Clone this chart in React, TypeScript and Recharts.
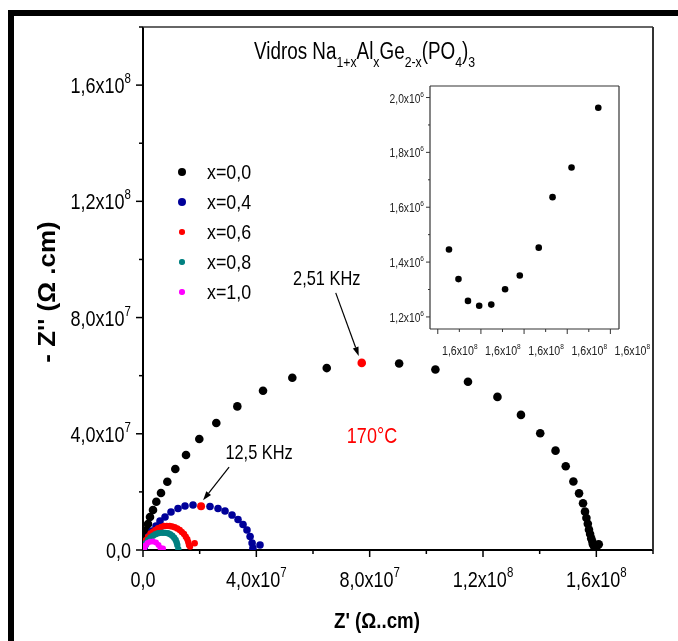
import React from 'react';
import { ScatterChart, Scatter, XAxis, YAxis, Legend } from 'recharts';

const FONT = "'Liberation Sans', Arial, sans-serif";
const SQUEEZE = 0.82; // the original uses a narrow face

// main plot: Z' and -Z'' in units of 10^7 ohm.cm
const zReX00 = [0.018, 0.035, 0.071, 0.124, 0.177, 0.247, 0.353, 0.47, 0.635, 0.858, 1.14, 1.518, 1.987, 2.587, 3.329, 4.236, 5.27, 6.485, 9.04, 10.32, 11.47, 12.51, 13.34, 14.02, 14.56, 14.92, 15.19, 15.39, 15.53, 15.6, 15.65, 15.7, 15.74, 15.78, 15.82, 15.86, 15.88, 15.913, 15.924, 15.935, 15.948, 15.962, 15.978, 15.995, 16.017, 16.033, 16.055, 16.086];
const zImX00 = [0.138, 0.31, 0.482, 0.688, 0.894, 1.135, 1.376, 1.662, 1.961, 2.35, 2.786, 3.268, 3.818, 4.369, 4.943, 5.48, 5.927, 6.261, 6.42, 6.21, 5.79, 5.27, 4.65, 4.02, 3.42, 2.88, 2.36, 1.95, 1.61, 1.32, 1.1, 0.9, 0.7, 0.55, 0.4, 0.29, 0.2, 0.1446, 0.1338, 0.1259, 0.1241, 0.1245, 0.1301, 0.1351, 0.1453, 0.1637, 0.1745, 0.1963];

const zReX04 = [0.035, 0.071, 0.141, 0.212, 0.318, 0.459, 0.6, 0.777, 0.988, 1.236, 1.483, 1.765, 2.365, 2.648, 2.895, 3.142, 3.354, 3.53, 3.67, 3.78, 3.85, 3.88, 4.13];
const zImX04 = [0.069, 0.172, 0.31, 0.482, 0.654, 0.826, 0.998, 1.135, 1.307, 1.428, 1.514, 1.548, 1.496, 1.428, 1.342, 1.204, 1.049, 0.877, 0.688, 0.464, 0.241, 0.069, 0.172];

const zReX06 = [0.03, 0.06, 0.106, 0.177, 0.265, 0.353, 0.44, 0.53, 0.64, 0.741, 0.84, 0.943, 1.03, 1.119, 1.21, 1.296, 1.37, 1.447, 1.51, 1.564, 1.6, 1.624, 1.66, 1.825];
const zImX06 = [0.09, 0.172, 0.344, 0.458, 0.568, 0.63, 0.69, 0.746, 0.79, 0.826, 0.83, 0.826, 0.81, 0.781, 0.74, 0.688, 0.62, 0.55, 0.46, 0.368, 0.27, 0.172, 0.12, 0.23];

const zReX08 = [0.03, 0.06, 0.106, 0.177, 0.265, 0.353, 0.44, 0.53, 0.62, 0.706, 0.79, 0.883, 0.96, 1.034, 1.1, 1.154, 1.19, 1.211, 1.246];
const zImX08 = [0.06, 0.114, 0.241, 0.344, 0.43, 0.492, 0.54, 0.574, 0.59, 0.595, 0.59, 0.574, 0.54, 0.492, 0.42, 0.344, 0.26, 0.172, 0.024];

const zReX10 = [0.018, 0.035, 0.088, 0.159, 0.247, 0.353, 0.459, 0.547, 0.618, 0.706];
const zImX10 = [0.02, 0.052, 0.155, 0.241, 0.286, 0.292, 0.258, 0.172, 0.069, 0.052];

// highlighted frequencies
const zRe251kHz = [7.72];
const zIm251kHz = [6.44];
const zRe125kHz = [2.05];
const zIm125kHz = [1.51];

// inset: Z' in 10^8, -Z'' in 10^6 ohm.cm (low frequency end of x=0,0)
const insetZRe = [1.5913, 1.5924, 1.5935, 1.5948, 1.5962, 1.5978, 1.5995, 1.6017, 1.6033, 1.6055, 1.6086];
const insetZIm = [1.446, 1.338, 1.2585, 1.241, 1.245, 1.301, 1.351, 1.4526, 1.6367, 1.745, 1.9627];

const MAIN_TICKS = [0, 2, 4, 6, 8, 10, 12, 14, 16, 18];
const MAIN_TICK_LABELS: Record<number, [string, string]> = {
  0: ['0,0', ''],
  4: ['4,0x10', '7'],
  8: ['8,0x10', '7'],
  12: ['1,2x10', '8'],
  16: ['1,6x10', '8'],
};

const INSET_X_TICKS = [1.59, 1.5925, 1.595, 1.5975, 1.6, 1.6025, 1.605, 1.6075, 1.61];
const INSET_X_MAJOR = [1.59, 1.595, 1.6, 1.605, 1.61];
const INSET_Y_TICKS = [1.2, 1.3, 1.4, 1.5, 1.6, 1.7, 1.8, 1.9, 2.0];
const INSET_Y_MAJOR = [1.2, 1.4, 1.6, 1.8, 2.0];

const toPoints = (re: number[], im: number[]) => re.map((x, i) => ({ x, y: im[i] }));

const SERIES = [
  { name: 'x=0,0', color: '#000000', data: toPoints(zReX00, zImX00), r: 4.3, legendR: 4.2 },
  { name: 'x=0,4', color: '#000099', data: toPoints(zReX04, zImX04), r: 3.8, legendR: 4 },
  { name: 'x=0,6', color: '#ff0000', data: toPoints(zReX06, zImX06), r: 3.2, legendR: 2.8 },
  { name: 'x=0,8', color: '#008080', data: toPoints(zReX08, zImX08), r: 3.2, legendR: 2.7 },
  { name: 'x=1,0', color: '#ff00ff', data: toPoints(zReX10, zImX10), r: 3, legendR: 2.7 },
];

const dot = (r: number, color: string) => (p: any) => (
  <circle cx={p.cx} cy={p.cy} r={r} fill={color} />
);

// narrow text: horizontally squeezed Liberation Sans
function NText({ x, y, size, anchor = 'start', fill = '#000', bold = false, sx = SQUEEZE, children }: any) {
  return (
    <text transform={`translate(${x},${y}) scale(${sx},1)`} textAnchor={anchor} fontFamily={FONT}
      fontSize={size} fontWeight={bold ? 'bold' : 'normal'} fill={fill}>
      {children}
    </text>
  );
}

function arrow(tx: number, ty: number, hx: number, hy: number) {
  const a = Math.atan2(hy - ty, hx - tx);
  const L = 9;
  const W = 3;
  const bx = hx - L * Math.cos(a);
  const by = hy - L * Math.sin(a);
  const pts = `${hx},${hy} ${bx - W * Math.sin(a)},${by + W * Math.cos(a)} ${bx + W * Math.sin(a)},${by - W * Math.cos(a)}`;
  return (
    <g>
      <line x1={tx} y1={ty} x2={bx} y2={by} stroke="#000" strokeWidth={1.2} />
      <polygon points={pts} fill="#000" />
    </g>
  );
}

const annotated = (r: number, text: string, tdx: number, tdy: number, tail: [number, number], head: [number, number]) => (p: any) => (
  <g>
    <circle cx={p.cx} cy={p.cy} r={r} fill="#ff0000" />
    {arrow(p.cx + tail[0], p.cy + tail[1], p.cx + head[0], p.cy + head[1])}
    <NText x={p.cx + tdx} y={p.cy + tdy} size={20} anchor="middle">{text}</NText>
  </g>
);

function MainBottomTick(props: any) {
  const { x, y, payload } = props;
  const lab = MAIN_TICK_LABELS[payload.value];
  return (
    <g>
      <line x1={x} y1={y} x2={x} y2={y + (lab ? 7 : 4)} stroke="#000" strokeWidth={1.5} />
      {lab && (
        <NText x={x} y={y + 37} size={22} anchor="middle">
          {lab[0]}
          {lab[1] && <tspan dy={-10} fontSize={14}>{lab[1]}</tspan>}
        </NText>
      )}
    </g>
  );
}

function MainLeftTick(props: any) {
  const { x, y, payload } = props;
  const lab = MAIN_TICK_LABELS[payload.value];
  return (
    <g>
      <line x1={x} y1={y} x2={x - (lab ? 7 : 4)} y2={y} stroke="#000" strokeWidth={1.5} />
      {lab && (
        <NText x={x - 12} y={y + 8} size={22} anchor="end">
          {lab[0]}
          {lab[1] && <tspan dy={-10} fontSize={14}>{lab[1]}</tspan>}
        </NText>
      )}
    </g>
  );
}

const TopTick = (len: number) => (props: any) => (
  <line x1={props.x} y1={props.y} x2={props.x} y2={props.y - len} stroke="#333" strokeWidth={1.2} />
);
const RightTick = (len: number) => (props: any) => (
  <line x1={props.x} y1={props.y} x2={props.x + len} y2={props.y} stroke="#333" strokeWidth={1.2} />
);

const fmtMantissa = (v: number) => v.toFixed(1).replace('.', ',');

function InsetBottomTick(props: any) {
  const { x, y, payload } = props;
  const major = INSET_X_MAJOR.includes(payload.value);
  return (
    <g>
      <line x1={x} y1={y} x2={x} y2={y + (major ? 5 : 3)} stroke="#333" strokeWidth={1} />
      {major && (
        <NText x={x + 22} y={y + 26} size={13} anchor="middle" fill="#222">
          {fmtMantissa(payload.value) + 'x10'}
          <tspan dy={-6} fontSize={8}>8</tspan>
        </NText>
      )}
    </g>
  );
}

function InsetLeftTick(props: any) {
  const { x, y, payload } = props;
  const major = INSET_Y_MAJOR.includes(payload.value);
  return (
    <g>
      <line x1={x} y1={y} x2={x - (major ? 4 : 2)} y2={y} stroke="#333" strokeWidth={1} />
      {major && (
        <NText x={x - 6} y={y + 5} size={12.5} anchor="end" fill="#222">
          {fmtMantissa(payload.value) + 'x10'}
          <tspan dy={-6} fontSize={8}>6</tspan>
        </NText>
      )}
    </g>
  );
}

function LegendBox() {
  return (
    <div style={{ fontFamily: FONT, fontSize: 21, color: '#000' }}>
      {SERIES.map((s) => (
        <div key={s.name} style={{ display: 'flex', alignItems: 'center', height: 30 }}>
          <div style={{ width: 24, display: 'flex', justifyContent: 'center' }}>
            <span style={{ width: s.legendR * 2, height: s.legendR * 2, borderRadius: '50%', background: s.color, display: 'inline-block' }} />
          </div>
          <span style={{ marginLeft: 13, display: 'inline-block', transform: `scaleX(${SQUEEZE + 0.03})`, transformOrigin: 'left center' }}>{s.name}</span>
        </div>
      ))}
    </div>
  );
}

export default function App() {
  const insetData = toPoints(insetZRe, insetZIm);
  return (
    <div style={{ position: 'relative', width: 670, height: 633 }}>
      <div style={{ position: 'fixed', left: 8, top: 10, right: 0, bottom: 0, borderTop: '6px solid #000', borderLeft: '6px solid #000' }} />

      <div style={{ position: 'absolute', left: -8, top: -8 }}>
        <ScatterChart width={678} height={641} margin={{ top: 26, right: 24, bottom: 90, left: 142 }}>
          <XAxis dataKey="x" type="number" domain={[0, 18]} ticks={MAIN_TICKS} interval={0}
            tick={(p: any) => <MainBottomTick {...p} />} tickLine={false} tickSize={0} tickMargin={0}
            axisLine={{ stroke: '#000', strokeWidth: 2 }} height={1} allowDataOverflow />
          <YAxis dataKey="y" type="number" domain={[0, 18]} ticks={MAIN_TICKS} interval={0}
            tick={(p: any) => <MainLeftTick {...p} />} tickLine={false} tickSize={0} tickMargin={0}
            axisLine={{ stroke: '#000', strokeWidth: 2 }} width={1} allowDataOverflow />
          <XAxis xAxisId="top" orientation="top" type="number" domain={[0, 18]} ticks={MAIN_TICKS} interval={0}
            tick={TopTick(4)} tickLine={false} tickSize={0} tickMargin={0}
            axisLine={{ stroke: '#333', strokeWidth: 1.5 }} height={1} />
          <YAxis yAxisId="right" orientation="right" type="number" domain={[0, 18]} ticks={MAIN_TICKS} interval={0}
            tick={RightTick(4)} tickLine={false} tickSize={0} tickMargin={0}
            axisLine={{ stroke: '#333', strokeWidth: 2 }} width={1} />
          {SERIES.map((s) => (
            <Scatter key={s.name} name={s.name} data={s.data} fill={s.color} shape={dot(s.r, s.color)} isAnimationActive={false} />
          ))}
          <Scatter name="2,51 KHz" data={toPoints(zRe251kHz, zIm251kHz)} fill="#ff0000" legendType="none"
            shape={annotated(4.3, '2,51 KHz', -35, -78, [-26, -70], [-3, -7])} isAnimationActive={false} />
          <Scatter name="12,5 KHz" data={toPoints(zRe125kHz, zIm125kHz)} fill="#ff0000" legendType="none"
            shape={annotated(4, '12,5 KHz', 58, -47, [28, -39], [2, -6])} isAnimationActive={false} />
          <Legend layout="vertical" align="center" verticalAlign="middle"
            wrapperStyle={{ left: 170, top: 157, width: 120 }} content={() => <LegendBox />} />
        </ScatterChart>
      </div>

      <div style={{ position: 'absolute', left: 372, top: 62 }}>
        <ScatterChart width={280} height={300} margin={{ top: 15, right: 40, bottom: 40, left: 49 }}>
          <XAxis dataKey="x" type="number" domain={[1.5891, 1.611]} ticks={INSET_X_TICKS} interval={0}
            tick={(p: any) => <InsetBottomTick {...p} />} tickLine={false} tickSize={0} tickMargin={0}
            axisLine={{ stroke: '#333', strokeWidth: 1.2 }} height={1} allowDataOverflow />
          <YAxis dataKey="y" type="number" domain={[1.156, 2.042]} ticks={INSET_Y_TICKS} interval={0}
            tick={(p: any) => <InsetLeftTick {...p} />} tickLine={false} tickSize={0} tickMargin={0}
            axisLine={{ stroke: '#333', strokeWidth: 1.2 }} width={1} allowDataOverflow />
          <XAxis xAxisId="top" orientation="top" type="number" domain={[1.5891, 1.611]} ticks={INSET_X_MAJOR} interval={0}
            tick={TopTick(-3)} tickLine={false} tickSize={0} tickMargin={0}
            axisLine={{ stroke: '#333', strokeWidth: 1.2 }} height={1} />
          <YAxis yAxisId="right" orientation="right" type="number" domain={[1.156, 2.042]} ticks={INSET_Y_MAJOR} interval={0}
            tick={RightTick(3)} tickLine={false} tickSize={0} tickMargin={0}
            axisLine={{ stroke: '#333', strokeWidth: 1.2 }} width={1} />
          <Scatter data={insetData} fill="#000" shape={dot(3.3, '#000')} isAnimationActive={false} />
        </ScatterChart>
      </div>

      <svg width={678} height={641} style={{ position: 'absolute', left: -8, top: -8, pointerEvents: 'none' }}>
        <NText x={254} y={59} size={23}>
          Vidros Na
          <tspan dy={8} fontSize={15}>1+x</tspan>
          <tspan dy={-8}>Al</tspan>
          <tspan dy={8} fontSize={15}>x</tspan>
          <tspan dy={-8}>Ge</tspan>
          <tspan dy={8} fontSize={15}>2-x</tspan>
          <tspan dy={-8}>(PO</tspan>
          <tspan dy={8} fontSize={15}>4</tspan>
          <tspan dy={-8}>)</tspan>
          <tspan dy={8} fontSize={15}>3</tspan>
        </NText>
        <text transform="translate(55,292) rotate(-90) scale(1.13,1)" textAnchor="middle" fontFamily={FONT} fontWeight="bold" fontSize={23} fill="#000">
          - Z'' (Ω .cm)
        </text>
        <NText x={377} y={628} size={22} anchor="middle" bold sx={0.85}>
          Z' (Ω..cm)
        </NText>
        <NText x={372} y={443} size={22} anchor="middle" fill="#ff0000">
          170°C
        </NText>
      </svg>
    </div>
  );
}
